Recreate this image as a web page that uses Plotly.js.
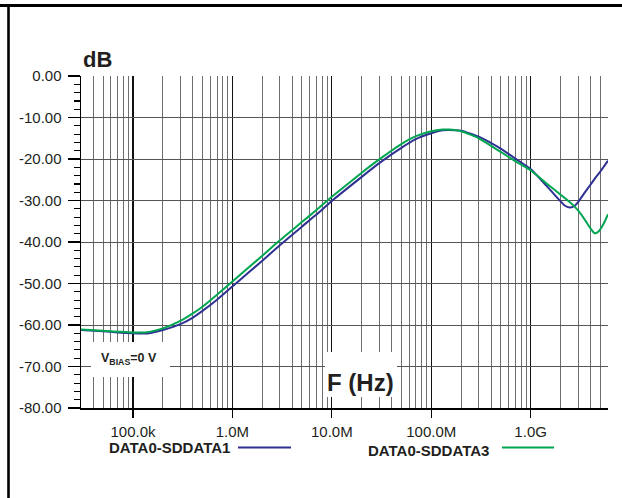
<!DOCTYPE html>
<html>
<head>
<meta charset="utf-8">
<script src="https://cdn.plot.ly/plotly-3.0.1.min.js"></script>
<style>
  html, body { margin: 0; padding: 0; background: #fff; }
  #chart { width: 622px; height: 498px; }
</style>
</head>
<body>
<div id="chart"></div>
<script>
// ---- data ----
const freqHz = [3e4, 5e4, 7e4, 1e5, 1.3e5, 1.5e5, 2e5, 3e5, 4e5, 5e5, 7e5, 1e6, 2e6, 3e6, 5e6, 7e6,
  1e7, 2e7, 3e7, 5e7, 7e7, 1e8, 1.3e8, 1.5e8, 2e8, 3e8, 5e8, 7e8, 1e9, 1.5e9, 2e9, 2.2e9,
  2.5e9, 2.8e9, 3e9, 3.5e9, 4e9, 4.4e9, 4.7e9, 5e9, 5.5e9, 6e9];

const sddata1 = [-61.2, -61.5, -61.8, -62.0, -62.05, -61.9, -61.2, -59.8, -58.2, -56.6, -53.9, -50.7,
  -44.5, -40.8, -36.3, -33.4, -30.1, -24.3, -21.0, -17.3, -15.2, -13.8, -13.1, -13.0,
  -13.2, -14.6, -17.5, -19.9, -22.4, -26.9, -30.2, -31.2, -31.7, -31.2, -30.4, -28.1,
  -26.2, -24.8, -23.9, -23.1, -21.7, -20.4];

const sddata3 = [-61.1, -61.4, -61.6, -61.8, -61.8, -61.6, -60.8, -59.0, -57.2, -55.6, -52.7, -49.5,
  -43.3, -39.6, -35.2, -32.3, -29.1, -23.3, -20.1, -16.4, -14.5, -13.3, -12.9, -12.9,
  -13.3, -15.0, -18.3, -20.5, -22.7, -26.2, -28.6, -29.4, -30.5, -31.6, -32.4, -34.6,
  -36.7, -37.9, -37.7, -37.0, -35.3, -33.3];

const seriesNames = ['DATA0-SDDATA1', 'DATA0-SDDATA3'];

const xTickVals = [1e5, 1e6, 1e7, 1e8, 1e9];
const xTickText = ['100.0k', '1.0M', '10.0M', '100.0M', '1.0G'];
const xMinorVals = [4e4, 5e4, 6e4, 7e4, 8e4, 9e4,
  2e5, 3e5, 4e5, 5e5, 6e5, 7e5, 8e5, 9e5,
  2e6, 3e6, 4e6, 5e6, 6e6, 7e6, 8e6, 9e6,
  2e7, 3e7, 4e7, 5e7, 6e7, 7e7, 8e7, 9e7,
  2e8, 3e8, 4e8, 5e8, 6e8, 7e8, 8e8, 9e8,
  2e9, 3e9, 4e9, 5e9, 6e9];
const yTickVals = [0, -10, -20, -30, -40, -50, -60, -70, -80];
const yTickText = ['0.00', '-10.00', '-20.00', '-30.00', '-40.00', '-50.00', '-60.00', '-70.00', '-80.00'];

// ---- layout helpers (pixel -> paper) ----
const W = 622, H = 498;
const M = { l: 81, r: 14, t: 76, b: 90 };
const PW = W - M.l - M.r, PH = H - M.t - M.b;
const px = x => (x - M.l) / PW;
const py = y => (H - M.b - y) / PH;

const FONT = 'Liberation Sans, Arial, Helvetica, sans-serif';
const BLUE = '#2e3192';
const GREEN = '#00a651';

const traces = [
  { x: freqHz, y: sddata1, name: seriesNames[0], type: 'scatter', mode: 'lines',
    line: { color: BLUE, width: 2, shape: 'spline', smoothing: 0.5 } },
  { x: freqHz, y: sddata3, name: seriesNames[1], type: 'scatter', mode: 'lines',
    line: { color: GREEN, width: 2, shape: 'spline', smoothing: 0.5 } }
];

const layout = {
  width: W, height: H,
  margin: M,
  paper_bgcolor: '#fff', plot_bgcolor: '#fff',
  showlegend: false,
  font: { family: FONT, color: '#231f20', size: 15 },
  xaxis: {
    type: 'log',
    range: [Math.log10(3e4), Math.log10(6e9)],
    tickmode: 'array', tickvals: xTickVals, ticktext: xTickText,
    ticks: 'outside', ticklen: 8, tickwidth: 1.2, tickcolor: '#000',
    showgrid: true, gridcolor: '#111', gridwidth: 1.2,
    minor: { tickmode: 'array', tickvals: xMinorVals, showgrid: true, gridcolor: '#6e6e6e', gridwidth: 1, ticks: '' },
    showline: true, linecolor: '#000', linewidth: 1.5,
    zeroline: false,
    tickfont: { family: FONT, size: 15, color: '#231f20' },
    ticklabelstandoff: 1
  },
  yaxis: {
    range: [-80, 0],
    tickmode: 'array', tickvals: yTickVals, ticktext: yTickText,
    ticks: 'outside', ticklen: 12, tickwidth: 1.2, tickcolor: '#000',
    showgrid: true, gridcolor: '#555', gridwidth: 1,
    minor: { dtick: 2, tick0: 0, ticks: 'outside', ticklen: 6, tickwidth: 1.2, tickcolor: '#000', showgrid: false },
    showline: true, linecolor: '#000', linewidth: 1.5,
    zeroline: false,
    tickfont: { family: FONT, size: 15, color: '#231f20' },
    ticklabelstandoff: 3
  },
  shapes: [
    // figure frame
    { type: 'line', xref: 'paper', yref: 'paper', x0: px(0), x1: px(622), y0: py(5.5), y1: py(5.5),
      line: { color: '#000', width: 3 } },
    { type: 'line', xref: 'paper', yref: 'paper', x0: px(8.5), x1: px(8.5), y0: py(5), y1: py(498),
      line: { color: '#000', width: 2.6 } },
    // white boxes behind in-plot labels
    { type: 'rect', xref: 'paper', yref: 'paper', layer: 'above',
      x0: px(91), x1: px(170), y0: py(377), y1: py(342),
      fillcolor: '#fff', line: { width: 0 } },
    { type: 'rect', xref: 'paper', yref: 'paper', layer: 'above',
      x0: px(325), x1: px(397), y0: py(397), y1: py(352),
      fillcolor: '#fff', line: { width: 0 } },
    // legend swatches
    { type: 'line', xref: 'paper', yref: 'paper', x0: px(238), x1: px(291), y0: py(447.5), y1: py(447.5),
      line: { color: BLUE, width: 2 } },
    { type: 'line', xref: 'paper', yref: 'paper', x0: px(502), x1: px(554), y0: py(447.5), y1: py(447.5),
      line: { color: GREEN, width: 2 } }
  ],
  annotations: [
    { xref: 'paper', yref: 'paper', x: px(97), y: py(59), text: '<b>dB</b>', showarrow: false,
      xanchor: 'center', yanchor: 'middle', font: { family: FONT, size: 22, color: '#231f20' } },
    { xref: 'paper', yref: 'paper', x: px(129), y: py(359), text: '<b>V<sub>BIAS</sub>=0 V</b>', showarrow: false,
      xanchor: 'center', yanchor: 'middle', font: { family: FONT, size: 12.5, color: '#231f20' } },
    { xref: 'paper', yref: 'paper', x: px(360), y: py(382), text: '<b>F (Hz)</b>', showarrow: false,
      xanchor: 'center', yanchor: 'middle', font: { family: FONT, size: 24, color: '#231f20' } },
    { xref: 'paper', yref: 'paper', x: px(232), y: py(447.5), text: '<b>' + seriesNames[0] + '</b>', showarrow: false,
      xanchor: 'right', yanchor: 'middle', font: { family: FONT, size: 15, color: '#231f20' } },
    { xref: 'paper', yref: 'paper', x: px(491), y: py(450), text: '<b>' + seriesNames[1] + '</b>', showarrow: false,
      xanchor: 'right', yanchor: 'middle', font: { family: FONT, size: 15, color: '#231f20' } }
  ]
};

Plotly.newPlot('chart', traces, layout, { staticPlot: true, displayModeBar: false });
</script>
</body>
</html>
